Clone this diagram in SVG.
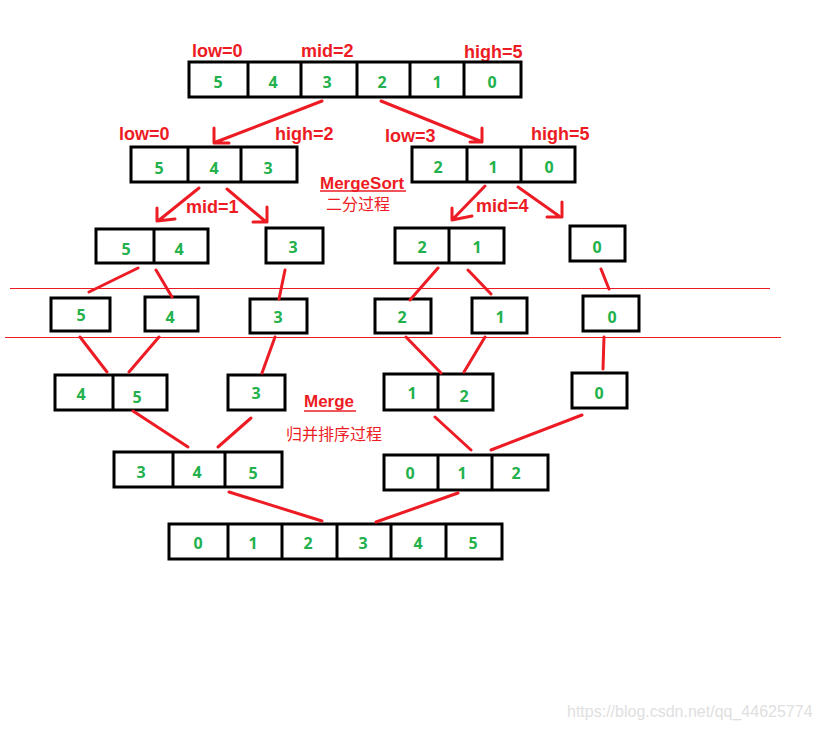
<svg xmlns="http://www.w3.org/2000/svg" width="819" height="730" viewBox="0 0 819 730">
<style>
.box{fill:none;stroke:#000;stroke-width:3}
.div{stroke:#000;stroke-width:3}
.num{font-family:"Open Sans","Liberation Sans",sans-serif;font-weight:bold;font-size:16px;fill:#22b14c;text-anchor:middle}
.lbl{font-family:"Liberation Sans","Noto Sans",sans-serif;font-weight:bold;font-size:17px;fill:#ed1c24}
.eq{font-size:18px}
.cn{font-family:"Noto Sans CJK SC",sans-serif;font-size:16px;fill:#ed1c24}
.con{stroke:#ed1c24;stroke-width:3;fill:none;stroke-linecap:round;stroke-linejoin:round}
.sep{stroke:#ed1c24;stroke-width:1}
.wm{font-family:"Liberation Sans",sans-serif;font-size:16px;fill:#e0e0e0}
</style>
<rect width="819" height="730" fill="#fff"/>

<g id="separators">
<line class="sep" x1="10" y1="288.5" x2="770" y2="288.5"/>
<line class="sep" x1="5" y1="337.5" x2="781" y2="337.5"/>
</g>

<g id="labels">
<text class="lbl eq" x="192" y="57">low=0</text>
<text class="lbl eq" x="301" y="57">mid=2</text>
<text class="lbl eq" x="464" y="58">high=5</text>
<text class="lbl eq" x="119" y="140">low=0</text>
<text class="lbl eq" x="275" y="140">high=2</text>
<text class="lbl eq" x="385" y="142">low=3</text>
<text class="lbl eq" x="531" y="140">high=5</text>
<text class="lbl eq" x="186" y="213">mid=1</text>
<text class="lbl eq" x="476" y="212">mid=4</text>
<text class="lbl" x="320" y="189">MergeSort</text>
<line x1="320" y1="191" x2="406" y2="191" stroke="#ed1c24" stroke-width="1.5"/>
<text class="cn" x="326" y="210">二分过程</text>
<text class="lbl" x="304" y="407">Merge</text>
<line x1="304" y1="411" x2="356" y2="411" stroke="#ed1c24" stroke-width="1.5"/>
<text class="cn" x="286" y="440">归并排序过程</text>
</g>

<g id="n0">
<rect class="box" x="189" y="62" width="332" height="35"/>
<path class="div" d="M248 62V97M301 62V97M357 62V97M410 62V97M464 62V97"/>
<text class="num" x="218" y="88">5</text><text class="num" x="273" y="88">4</text><text class="num" x="327" y="88">3</text><text class="num" x="382" y="88">2</text><text class="num" x="437" y="88">1</text><text class="num" x="492" y="88">0</text>
</g>

<g id="n1">
<rect class="box" x="131" y="147" width="166" height="35"/>
<path class="div" d="M188 147V182M241 147V182"/>
<text class="num" x="159" y="174">5</text><text class="num" x="214" y="174">4</text><text class="num" x="268" y="174">3</text>
</g>
<g id="n2">
<rect class="box" x="412" y="147" width="163" height="35"/>
<path class="div" d="M467 147V182M521 147V182"/>
<text class="num" x="438" y="173">2</text><text class="num" x="493" y="173">1</text><text class="num" x="549" y="173">0</text>
</g>

<g id="n3">
<rect class="box" x="96" y="229" width="112" height="34"/>
<path class="div" d="M154 229V263"/>
<text class="num" x="126" y="255">5</text><text class="num" x="179" y="255">4</text>
</g>
<g id="n4">
<rect class="box" x="266" y="228" width="57" height="35"/>
<text class="num" x="293" y="253">3</text>
</g>
<g id="n5">
<rect class="box" x="395" y="228" width="109" height="35"/>
<path class="div" d="M449 228V263"/>
<text class="num" x="422" y="253">2</text><text class="num" x="477" y="253">1</text>
</g>
<g id="n6">
<rect class="box" x="570" y="226" width="55" height="35"/>
<text class="num" x="597" y="253">0</text>
</g>

<g id="n7"><rect class="box" x="51" y="298" width="59" height="33"/><text class="num" x="81" y="321">5</text></g>
<g id="n8"><rect class="box" x="145" y="297" width="53" height="34"/><text class="num" x="170" y="323">4</text></g>
<g id="n9"><rect class="box" x="250" y="299" width="57" height="34"/><text class="num" x="278" y="323">3</text></g>
<g id="n10"><rect class="box" x="375" y="299" width="56" height="34"/><text class="num" x="402" y="323">2</text></g>
<g id="n11"><rect class="box" x="472" y="298" width="55" height="35"/><text class="num" x="500" y="323">1</text></g>
<g id="n12"><rect class="box" x="583" y="296" width="56" height="35"/><text class="num" x="612" y="323">0</text></g>

<g id="n13">
<rect class="box" x="55" y="375" width="112" height="35"/>
<path class="div" d="M113 375V410"/>
<text class="num" x="81" y="400">4</text><text class="num" x="137" y="403">5</text>
</g>
<g id="n14"><rect class="box" x="228" y="375" width="57" height="35"/><text class="num" x="256" y="399">3</text></g>
<g id="n15">
<rect class="box" x="384" y="374" width="109" height="36"/>
<path class="div" d="M438 374V410"/>
<text class="num" x="412" y="399">1</text><text class="num" x="464" y="402">2</text>
</g>
<g id="n16"><rect class="box" x="572" y="373" width="55" height="35"/><text class="num" x="599" y="399">0</text></g>

<g id="n17">
<rect class="box" x="114" y="452" width="168" height="35"/>
<path class="div" d="M173 452V487M225 452V487"/>
<text class="num" x="141" y="478">3</text><text class="num" x="197" y="478">4</text><text class="num" x="253" y="479">5</text>
</g>
<g id="n18">
<rect class="box" x="384" y="455" width="164" height="35"/>
<path class="div" d="M438 455V490M492 455V490"/>
<text class="num" x="410" y="479">0</text><text class="num" x="462" y="479">1</text><text class="num" x="516" y="479">2</text>
</g>

<g id="n19">
<rect class="box" x="169" y="524" width="333" height="35"/>
<path class="div" d="M228 524V559M282 524V559M337 524V559M391 524V559M446 524V559"/>
<text class="num" x="198" y="549">0</text><text class="num" x="253" y="549">1</text><text class="num" x="308" y="549">2</text><text class="num" x="363" y="549">3</text><text class="num" x="418" y="549">4</text><text class="num" x="473" y="549">5</text>
</g>

<g id="connectors">
<path class="con" d="M322 101L216 142M214 128V143H229"/>
<path class="con" d="M381 101L480 141M482 128V142H470"/>
<path class="con" d="M199 188L158 221M157 208V221L175 219"/>
<path class="con" d="M227 189L265 221M267 207V222H253"/>
<path class="con" d="M485 186L453 219M452 208V220L472 216"/>
<path class="con" d="M518 187L559 216M562 202V217H547"/>
<path class="con" d="M138 268L89 292M156 270L172 297M285 270L279 299"/>
<path class="con" d="M438 268L410 300M468 270L491 294M601 269L609 289"/>
<path class="con" d="M80 337L107 372M159 337L129 372M275 337L262 373"/>
<path class="con" d="M406 337L441 373M485 337L464 372M604 337L603 369"/>
<path class="con" d="M133 411L188 447M251 418L218 447"/>
<path class="con" d="M435 417L471 450M582 415L491 450"/>
<path class="con" d="M229 492L322 521M458 493L376 522"/>
</g>

<text class="wm" x="567" y="717">https://blog.csdn.net/qq_44625774</text>
</svg>
